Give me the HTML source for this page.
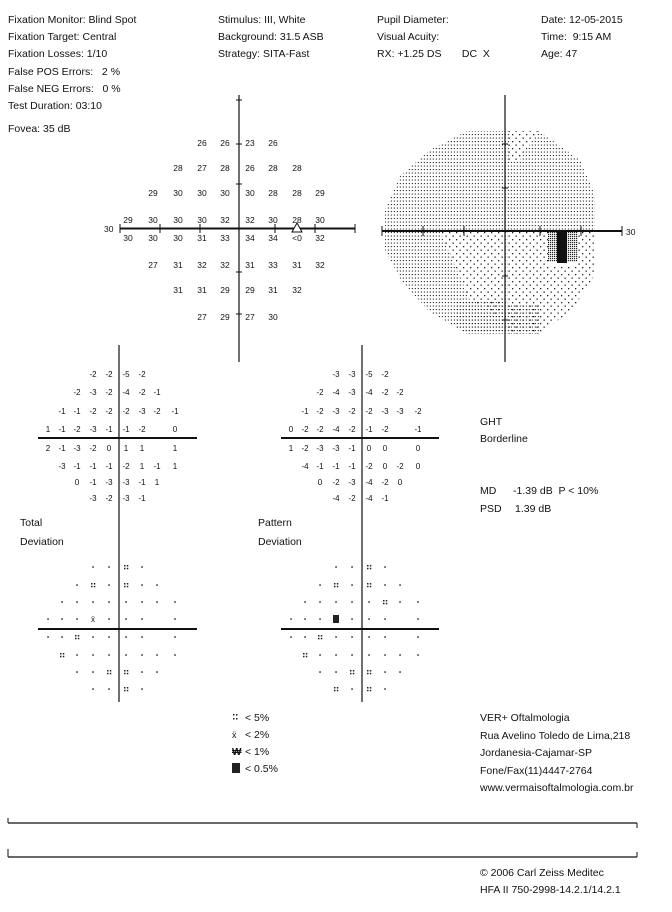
<!DOCTYPE html>
<html><head><meta charset="utf-8"><style>
html,body{margin:0;padding:0;background:#fff}
svg{display:block}
text{font-family:"Liberation Sans",sans-serif;fill:#111}
.h{font-size:10.5px}
.n{font-size:8.5px}
.d{font-size:8px}
</style></head><body>
<svg id="s" width="672" height="912" viewBox="0 0 672 912" xmlns="http://www.w3.org/2000/svg">
<defs>
<pattern id="dense" width="3" height="3.5" patternUnits="userSpaceOnUse"><rect x="0.8" y="1" width="1.1" height="1.1" fill="#222"/></pattern>
<pattern id="sparse" width="7" height="7" patternUnits="userSpaceOnUse"><rect x="1" y="1" width="1.3" height="1.3" fill="#222"/><rect x="4.5" y="4.5" width="1.3" height="1.3" fill="#222"/></pattern>
<pattern id="gray" width="2" height="2" patternUnits="userSpaceOnUse"><rect x="0" y="0" width="1.2" height="1.2" fill="#222"/></pattern>
<clipPath id="oct"><polygon points="467,131 539,131 580,160 595,195 595,275 572,310 539,334 467,334 430,312 402,282 385,250 385,210 400,176 430,150"/></clipPath>
</defs>
<g class="h">
<text x="8" y="23">Fixation Monitor: Blind Spot</text>
<text x="8" y="40">Fixation Target: Central</text>
<text x="8" y="57">Fixation Losses: 1/10</text>
<text x="8" y="75">False POS Errors:&#160;&#160; 2 %</text>
<text x="8" y="92">False NEG Errors:&#160;&#160; 0 %</text>
<text x="8" y="109">Test Duration: 03:10</text>
<text x="8" y="132">Fovea: 35 dB</text>
<text x="218" y="23">Stimulus: III, White</text>
<text x="218" y="40">Background: 31.5 ASB</text>
<text x="218" y="57">Strategy: SITA-Fast</text>
<text x="377" y="23">Pupil Diameter:</text>
<text x="377" y="40">Visual Acuity:</text>
<text x="377" y="57">RX: +1.25 DS&#160;&#160;&#160;&#160;&#160;&#160; DC&#160; X</text>
<text x="541" y="23">Date: 12-05-2015</text>
<text x="541" y="40">Time:&#160; 9:15 AM</text>
<text x="541" y="57">Age: 47</text>
<text x="20" y="526">Total</text>
<text x="20" y="545">Deviation</text>
<text x="258" y="526">Pattern</text>
<text x="258" y="545">Deviation</text>
<text x="480" y="425">GHT</text>
<text x="480" y="442">Borderline</text>
<text x="480" y="494">MD</text><text x="513" y="494">-1.39 dB&#160; P &lt; 10%</text>
<text x="480" y="512">PSD</text><text x="515" y="512">1.39 dB</text>
<text x="245" y="721">&lt; 5%</text>
<text x="245" y="738">&lt; 2%</text>
<text x="245" y="755">&lt; 1%</text>
<text x="245" y="772">&lt; 0.5%</text>
<text x="480" y="721">VER+ Oftalmologia</text>
<text x="480" y="739">Rua Avelino Toledo de Lima,218</text>
<text x="480" y="756">Jordanesia-Cajamar-SP</text>
<text x="480" y="774">Fone/Fax(11)4447-2764</text>
<text x="480" y="791">www.vermaisoftalmologia.com.br</text>
<text x="480" y="876">© 2006 Carl Zeiss Meditec</text>
<text x="480" y="893">HFA II 750-2998-14.2.1/14.2.1</text>
</g>
<g fill="#222">
<rect x="233" y="714" width="1.5" height="1.5"/><rect x="236" y="714" width="1.5" height="1.5"/><rect x="233" y="718" width="1.5" height="1.5"/><rect x="236" y="718" width="1.5" height="1.5"/>
<text x="232" y="738" style="font-size:9px">ẍ</text>
<text x="232" y="755" style="font-size:10px;font-weight:bold">₩</text>
<rect x="232" y="763" width="8" height="10"/>
</g>
<g stroke="#111" fill="none">
<line x1="239" y1="95" x2="239" y2="362" stroke-width="1.2"/>
<line x1="120" y1="228.5" x2="355" y2="228.5" stroke-width="2"/>
<line x1="120" y1="224" x2="120" y2="233"/><line x1="160" y1="224" x2="160" y2="233"/><line x1="200" y1="224" x2="200" y2="233"/>
<line x1="275" y1="224" x2="275" y2="233"/><line x1="315" y1="224" x2="315" y2="233"/><line x1="355" y1="224" x2="355" y2="233"/>
<line x1="236" y1="144" x2="242" y2="144"/><line x1="236" y1="184" x2="242" y2="184"/><line x1="236" y1="272" x2="242" y2="272"/><line x1="236" y1="314" x2="242" y2="314"/><line x1="236" y1="100" x2="242" y2="100"/>
</g>
<polygon points="297,223 292,232 302,232" fill="#fff" stroke="#111"/>
<text x="104" y="232" class="n">30</text>
<g clip-path="url(#oct)">
<rect x="380" y="125" width="220" height="215" fill="url(#dense)"/>
<polygon points="508,231 600,231 600,340 508,340" fill="#fff"/>
<polygon points="508,231 600,231 600,340 508,340" fill="url(#sparse)"/>
<polygon points="440,231 505,231 505,320 470,300" fill="#fff"/>
<polygon points="440,231 505,231 505,320 470,300" fill="url(#sparse)"/>
<polygon points="508,231 590,231 590,200 508,200" fill="#fff"/>
<polygon points="508,231 590,231 590,200 508,200" fill="url(#dense)"/>
<polygon points="509,128 540,128 520,160 509,160" fill="#fff"/>
<polygon points="509,128 540,128 520,160 509,160" fill="url(#sparse)"/>
<polygon points="455,300 505,300 505,334 455,334" fill="url(#dense)"/>
<polygon points="508,305 540,305 540,334 508,334" fill="url(#dense)"/>
</g>
<rect x="548" y="232" width="30" height="34" fill="#fff"/>
<rect x="548" y="232" width="30" height="30" fill="url(#gray)"/>
<rect x="557" y="232" width="10" height="31" fill="#111"/>
<g stroke="#111" fill="none">
<line x1="505" y1="95" x2="505" y2="362" stroke-width="1.2"/>
<line x1="382" y1="231" x2="622" y2="231" stroke-width="2"/>
<line x1="382" y1="226" x2="382" y2="236"/><line x1="423" y1="226" x2="423" y2="236"/><line x1="464" y1="226" x2="464" y2="236"/>
<line x1="540" y1="226" x2="540" y2="236"/><line x1="581" y1="226" x2="581" y2="236"/><line x1="622" y1="226" x2="622" y2="236"/>
<line x1="502" y1="144" x2="508" y2="144"/><line x1="502" y1="188" x2="508" y2="188"/><line x1="502" y1="276" x2="508" y2="276"/><line x1="502" y1="320" x2="508" y2="320"/>
</g>
<text x="626" y="235" class="n">30</text>
<g stroke="#111" fill="none">
<line x1="119" y1="345" x2="119" y2="702" stroke-width="1.2"/>
<line x1="362" y1="345" x2="362" y2="702" stroke-width="1.2"/>
<line x1="38" y1="438" x2="197" y2="438" stroke-width="2"/>
<line x1="281" y1="438" x2="439" y2="438" stroke-width="2"/>
<line x1="38" y1="629" x2="197" y2="629" stroke-width="2"/>
<line x1="281" y1="629" x2="439" y2="629" stroke-width="2"/>
<line x1="8" y1="823" x2="637" y2="823" stroke-width="1.3"/>
<line x1="8" y1="857" x2="637" y2="857" stroke-width="1.3"/>
<line x1="637" y1="823" x2="637" y2="828"/><line x1="637" y1="852" x2="637" y2="857"/>
<line x1="8" y1="818" x2="8" y2="823"/><line x1="8" y1="849" x2="8" y2="857"/>
</g>
<g id="g"></g>
</svg>
<script>
var NS="http://www.w3.org/2000/svg",G=document.getElementById("g");
function t(x,y,s,c){var e=document.createElementNS(NS,"text");e.setAttribute("x",x);e.setAttribute("y",y);e.setAttribute("text-anchor","middle");e.setAttribute("class",c);e.textContent=s;G.appendChild(e);}
function r(x,y,w,h){var e=document.createElementNS(NS,"rect");e.setAttribute("x",x);e.setAttribute("y",y);e.setAttribute("width",w);e.setAttribute("height",h);e.setAttribute("fill","#222");G.appendChild(e);}
var tc=[128,153,178,202,225,250,273,297,320],ty=[143,168,193,220,238,265,290,317];
var th=[[3,"26 26 23 26"],[2,"28 27 28 26 28 28"],[1,"29 30 30 30 30 28 28 29"],[0,"29 30 30 30 32 32 30 28 30"],[0,"30 30 30 31 33 34 34 <0 32"],[1,"27 31 32 32 31 33 31 32"],[2,"31 31 29 29 31 32"],[3,"27 29 27 30"]];
th.forEach(function(a,i){a[1].split(" ").forEach(function(v,j){t(tc[a[0]+j],ty[i]+3,v,"n");});});
var dy=[374,392,411,429,448,466,482,498];
function dev(cx,rows){rows.forEach(function(a,i){a[1].split(" ").forEach(function(v,j){if(v!="_")t(cx[a[0]+j],dy[i]+3,v,"d");});});}
var c1=[48,62,77,93,109,126,142,157,175],c2=c1.map(function(x){return x+243;});
dev(c1,[[3,"-2 -2 -5 -2"],[2,"-2 -3 -2 -4 -2 -1"],[1,"-1 -1 -2 -2 -2 -3 -2 -1"],[0,"1 -1 -2 -3 -1 -1 -2 _ 0"],[0,"2 -1 -3 -2 0 1 1 _ 1"],[1,"-3 -1 -1 -1 -2 1 -1 1"],[2,"0 -1 -3 -3 -1 1"],[3,"-3 -2 -3 -1"]]);
dev(c2,[[3,"-3 -3 -5 -2"],[2,"-2 -4 -3 -4 -2 -2"],[1,"-1 -2 -3 -2 -2 -3 -3 -2"],[0,"0 -2 -2 -4 -2 -1 -2 _ -1"],[0,"1 -2 -3 -3 -1 0 0 _ 0"],[1,"-4 -1 -1 -1 -2 0 -2 0"],[2,"0 -2 -3 -4 -2 0"],[3,"-4 -2 -4 -1"]]);
var py=[567,585,602,619,637,655,672,689];
function prob(cx,rows){rows.forEach(function(a,i){a[1].split(" ").forEach(function(v,j){var x=cx[a[0]+j],y=py[i];
if(v==".")r(x-0.7,y-0.7,1.5,1.5);
else if(v==":"){r(x-2,y-2,1.5,1.5);r(x+0.8,y-2,1.5,1.5);r(x-2,y+0.8,1.5,1.5);r(x+0.8,y+0.8,1.5,1.5);}
else if(v=="X"){t(x,y+3,"ẍ","d");}
else if(v=="Y"){r(x-3,y-4,6,8);}
});});}
prob(c1,[[3,". . : ."],[2,". : . : . ."],[1,". . . . . . . ."],[0,". . . X . . . _ ."],[0,". . : . . . . _ ."],[1,": . . . . . . ."],[2,". . : : . ."],[3,". . : ."]]);
prob(c2,[[3,". . : ."],[2,". : . : . ."],[1,". . . . . : . ."],[0,". . . Y . . . _ ."],[0,". . : . . . . _ ."],[1,": . . . . . . ."],[2,". . : : . ."],[3,": . : ."]]);
</script>
</body></html>
